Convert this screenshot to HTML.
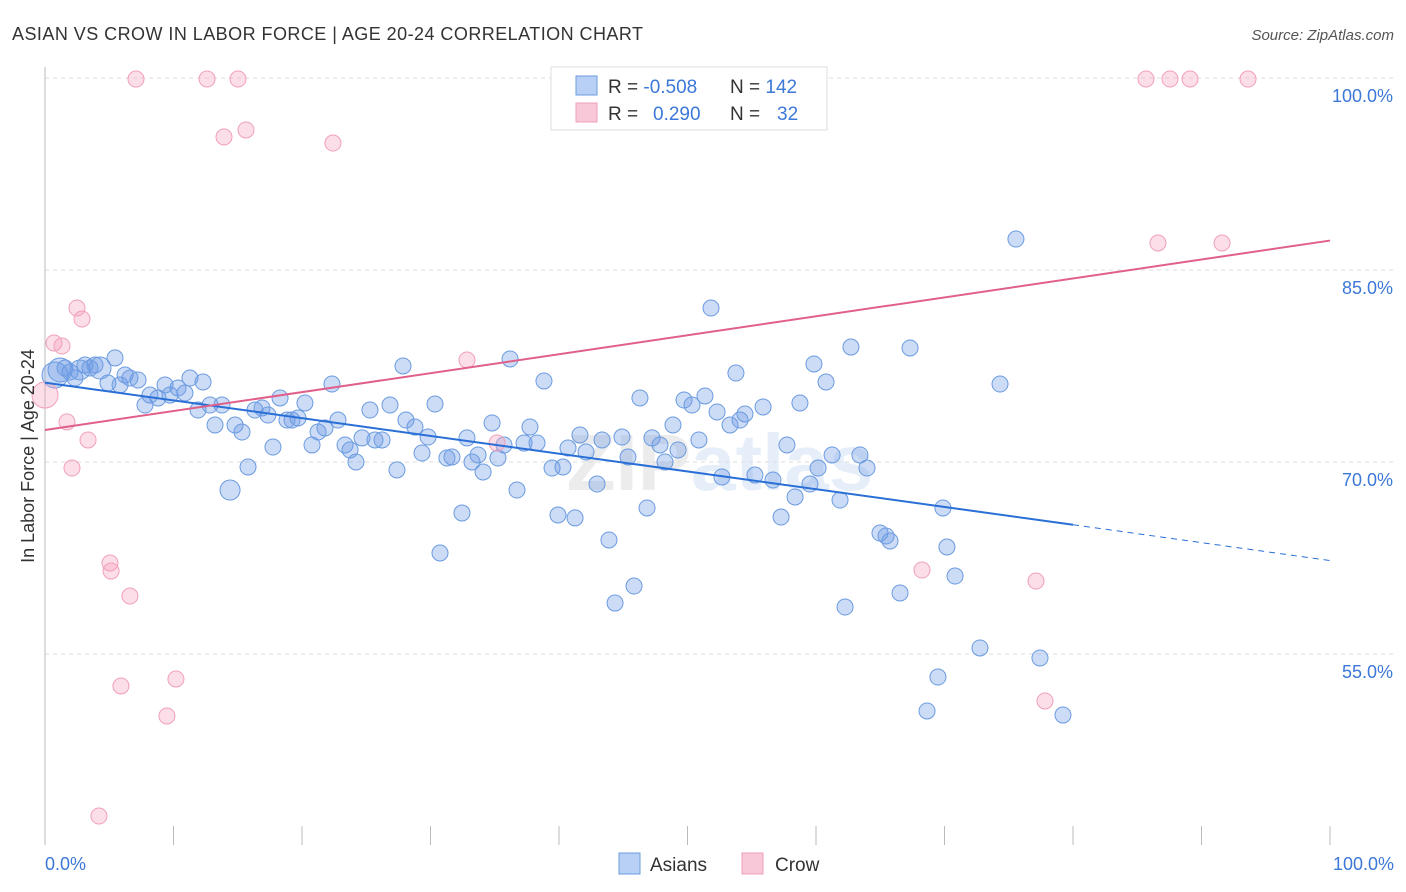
<!DOCTYPE html>
<html><head><meta charset="utf-8"><style>
body{margin:0;background:#fff;font-family:"Liberation Sans",sans-serif;}
svg{display:block}
</style></head><body>
<svg id="chart" width="1406" height="892" xmlns="http://www.w3.org/2000/svg">
<text x="12" y="40" font-size="18" fill="#333" textLength="631">ASIAN VS CROW IN LABOR FORCE | AGE 20-24 CORRELATION CHART</text>
<text x="1394" y="40" font-size="15" fill="#555" font-style="italic" text-anchor="end">Source: ZipAtlas.com</text>
<text x="720" y="490" font-size="80" font-weight="bold" text-anchor="middle"><tspan fill="#ececec">ZIP</tspan><tspan fill="#e6eef9">atlas</tspan></text>
<g id="grid"></g><g id="axes"></g><g id="pts"></g><g id="lines"></g>
<text transform="translate(34,456) rotate(-90)" font-size="18" fill="#333" text-anchor="middle">In Labor Force | Age 20-24</text>
<text x="45" y="870" font-size="18" fill="#3c78d8">0.0%</text>
<text x="1394" y="870" font-size="18" fill="#3c78d8" text-anchor="end">100.0%</text>
<g>
<rect x="551" y="67" width="276" height="63" fill="#fff" stroke="#ddd"/>
<rect x="576" y="76" width="21" height="19" fill="#b8d0f5" stroke="#6b9be0"/>
<rect x="576" y="103" width="21" height="19" fill="#f9c8d8" stroke="#f0a0b8"/>
<text x="608" y="93" font-size="19" fill="#333">R = <tspan fill="#3c78d8">-0.508</tspan></text>
<text x="730" y="93" font-size="19" fill="#333">N = <tspan fill="#3c78d8">142</tspan></text>
<text x="608" y="120" font-size="19" fill="#333">R = <tspan fill="#3c78d8" x="653">0.290</tspan></text>
<text x="730" y="120" font-size="19" fill="#333">N = <tspan fill="#3c78d8" x="777">32</tspan></text>
</g>
<g>
<rect x="619" y="853" width="21" height="21" fill="#b8d0f5" stroke="#6b9be0"/>
<text x="650" y="871" font-size="19" fill="#333">Asians</text>
<rect x="742" y="853" width="21" height="21" fill="#f9c8d8" stroke="#f0a0b8"/>
<text x="775" y="871" font-size="19" fill="#333">Crow</text>
</g>
</svg>
<script>
const yTicks=[100,85,70,55];
const xTicks=[0,10,20,30,40,50,60,70,80,90,100];
const bluePx=[[55,375],[60,370],[65,368],[70,372],[75,378],[80,370],[85,365],[90,368],[95,365],[100,368],[108,383],[115,358],[120,385],[125,375],[130,378],[138,380],[145,405],[150,395],[158,398],[165,385],[170,395],[178,388],[185,393],[190,378],[198,410],[203,382],[210,405],[215,425],[222,405],[230,490],[235,425],[242,432],[248,467],[255,410],[262,408],[268,415],[273,447],[280,398],[287,420],[292,420],[298,418],[305,403],[312,445],[318,432],[325,428],[332,384],[338,420],[345,445],[350,450],[356,462],[362,438],[370,410],[375,440],[382,440],[390,405],[397,470],[403,366],[406,420],[415,427],[422,453],[428,437],[435,404],[440,553],[447,458],[452,457],[462,513],[467,438],[472,462],[478,455],[483,472],[492,423],[498,458],[504,445],[510,359],[517,490],[524,443],[530,427],[537,443],[544,381],[552,468],[558,515],[563,467],[568,448],[575,518],[580,435],[586,452],[597,484],[602,440],[609,540],[615,603],[622,437],[628,457],[634,586],[640,398],[647,508],[652,438],[660,445],[665,462],[673,425],[678,450],[684,400],[692,405],[699,440],[705,396],[711,308],[717,412],[722,477],[730,425],[736,373],[740,420],[745,414],[755,475],[763,407],[773,480],[781,517],[787,445],[795,497],[800,403],[810,484],[814,364],[818,468],[826,382],[832,455],[840,500],[845,607],[851,347],[860,455],[867,468],[880,533],[886,536],[890,541],[900,593],[910,348],[927,711],[938,677],[943,508],[947,547],[955,576],[980,648],[1000,384],[1016,239],[1040,658],[1063,715]];
const pinkPx=[[136,79],[207,79],[238,79],[246,130],[224,137],[333,143],[1146,79],[1170,79],[1190,79],[1248,79],[1158,243],[1222,243],[77,308],[82,319],[54,343],[62,346],[467,360],[45,395],[67,422],[88,440],[72,468],[110,563],[111,571],[130,596],[121,686],[176,679],[167,716],[99,816],[497,443],[922,570],[1036,581],[1045,701]];
const asianX=bluePx.map(p=>+((p[0]-45)/12.85).toFixed(2));
const asianY=bluePx.map(p=>+(100-(p[1]-78)/12.8).toFixed(2));
const crowX=pinkPx.map(p=>+((p[0]-45)/12.85).toFixed(2));
const crowY=pinkPx.map(p=>+(100-(p[1]-78)/12.8).toFixed(2));
const blueTrend=[[0,76.2],[80,65.1],[100,62.3]];
const pinkTrend=[[0,72.5],[100,87.3]];
const X=v=>45+v*12.85, Y=v=>78+(100-v)*12.8;
const NS="http://www.w3.org/2000/svg";
function mk(t,a,parent){const e=document.createElementNS(NS,t);for(const k in a)e.setAttribute(k,a[k]);document.getElementById(parent).appendChild(e);return e;}
yTicks.forEach(t=>{
 const l=mk('line',{x1:45,x2:1394,y1:Y(t),y2:Y(t),stroke:'#ddd','stroke-dasharray':'4,4'},'grid');
 
 
 const tx=mk('text',{x:1393,y:Y(t)+24,'font-size':18,fill:'#3c78d8','text-anchor':'end'},'grid');
 tx.textContent=t.toFixed(1)+'%';
 
 
});
const ya=mk('line',{x1:45,x2:45,y1:67,y2:845,stroke:'#bbb'},'axes');


xTicks.forEach(t=>{
 const l=mk('line',{x1:X(t),x2:X(t),y1:826,y2:845,stroke:'#bbb'},'axes');
 
 
});
const big={0:13,1:12,5:10,9:11,29:10};
asianX.forEach((x,i)=>{
 const c=mk('circle',{cx:X(x),cy:Y(asianY[i]),r:big[i]||8,fill:'rgba(110,155,230,0.35)',stroke:'#6b9be0','stroke-width':1},'pts');
 
 
});
crowX.forEach((x,i)=>{
 const c=mk('circle',{cx:X(x),cy:Y(crowY[i]),r:i==17?13:8,fill:'rgba(245,160,190,0.35)',stroke:'#f0a0b8','stroke-width':1},'pts');
 
 
});
const b1=mk('line',{x1:X(blueTrend[0][0]),y1:Y(blueTrend[0][1]),x2:X(blueTrend[1][0]),y2:Y(blueTrend[1][1]),stroke:'#2a6fd6','stroke-width':2},'lines');


const b2=mk('line',{x1:X(blueTrend[1][0]),y1:Y(blueTrend[1][1]),x2:X(blueTrend[2][0]),y2:Y(blueTrend[2][1]),stroke:'#2a6fd6','stroke-width':1,'stroke-dasharray':'6,5'},'lines');


const p1=mk('line',{x1:X(pinkTrend[0][0]),y1:Y(pinkTrend[0][1]),x2:X(pinkTrend[1][0]),y2:Y(pinkTrend[1][1]),stroke:'#e0608a','stroke-width':2},'lines');


</script>
</body></html>
